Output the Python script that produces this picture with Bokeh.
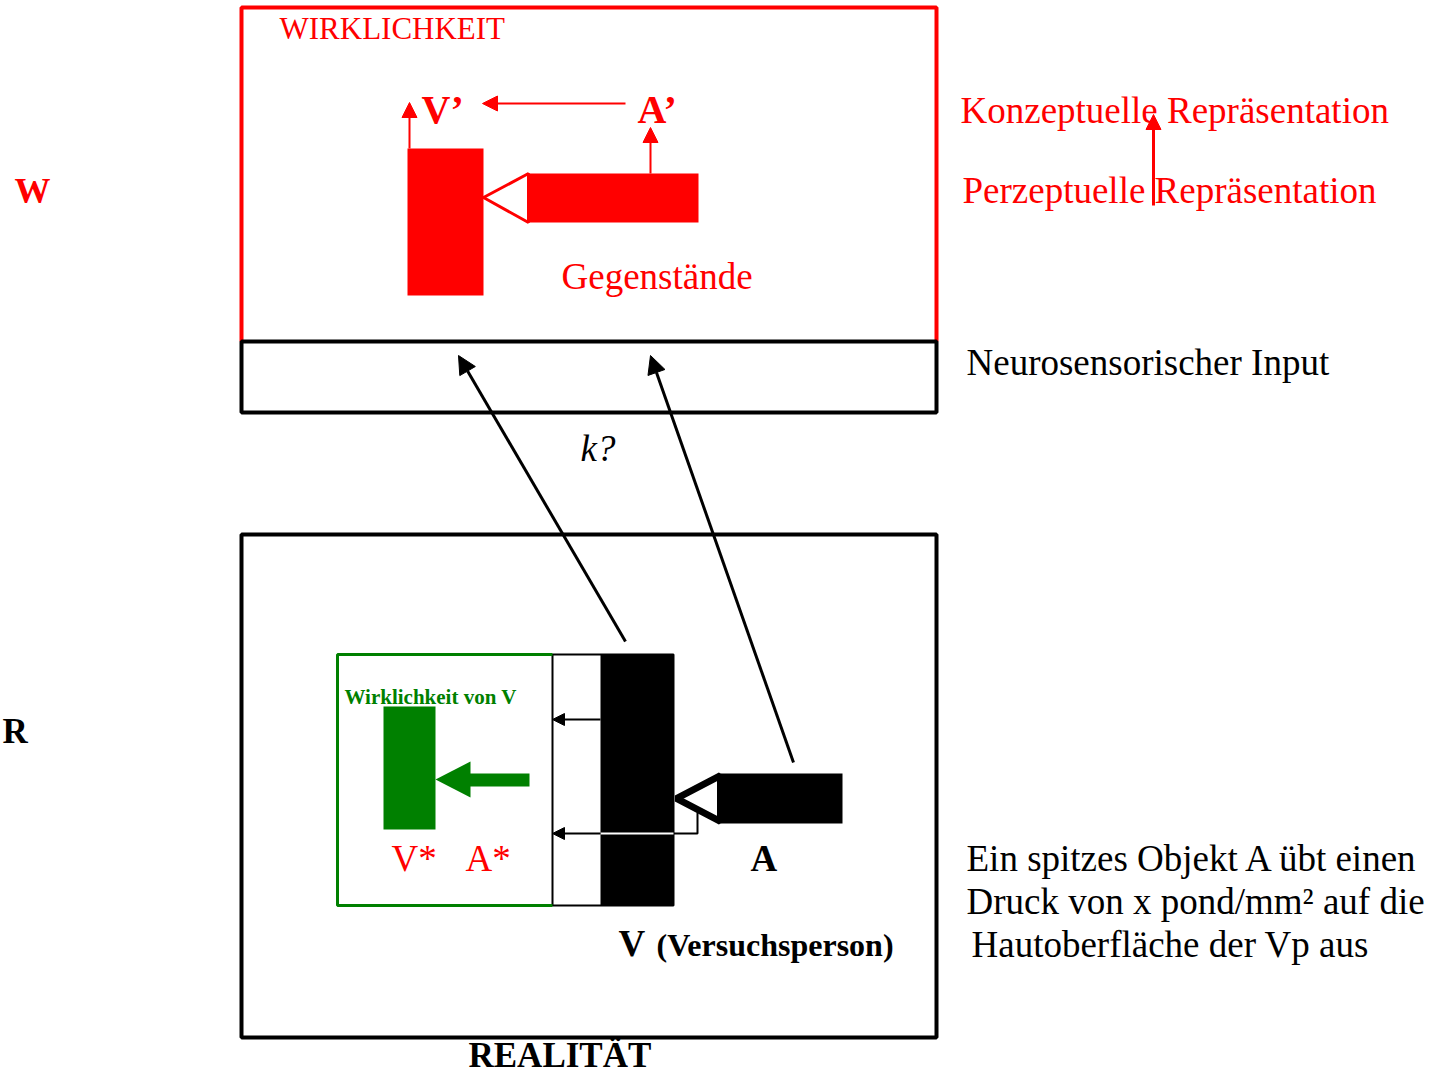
from bokeh.plotting import figure
from bokeh.models import Range1d, Arrow, NormalHead, ColumnDataSource
from bokeh.core.properties import value
from bokeh.embed import file_html
from bokeh.resources import INLINE

RED = "#ff0000"
GREEN = "#008000"
BLACK = "#000000"
FONT = "Liberation Serif"

# ---------------- data (reference pixel coordinates) ----------------
# frames
red_frame_x = [241, 241, 936, 936]
red_frame_y = [341, 7, 7, 341]
input_band = dict(left=[241], right=[936], top=[341], bottom=[412])
real_box = dict(left=[241], right=[936], top=[534], bottom=[1037])

# red "Gegenstände" objects
red_rect_left = [407, 528]
red_rect_right = [483, 698]
red_rect_top = [148, 173]
red_rect_bottom = [295, 222]
red_tri_x = [528, 483, 528]
red_tri_y = [173, 197, 222]

# red arrows (x0, y0, x1, y1, width)
red_arrows = [
    (625, 103, 482, 103, 2),
    (409, 148, 409, 102, 2),
    (650, 173, 650, 127, 2),
    (1153, 205, 1153, 114, 3),
]

# black arrows neurosensorisch
black_arrows = [
    (625, 641, 458, 355, 3),
    (793, 762, 650, 355, 3),
]

# green box (Wirklichkeit von V)
green_frame_x = [552, 337, 337, 552]
green_frame_y = [654, 654, 905, 905]
green_rect = dict(left=[383], right=[435], top=[706], bottom=[829])
green_shaft = dict(left=[468], right=[529], top=[773], bottom=[786])
green_head_x = [435, 470, 470]
green_head_y = [779, 761, 797]

# black objects (V, A)
skin_band = dict(left=[552], right=[673], top=[654], bottom=[905])
v_rect = dict(left=[600], right=[673], top=[654], bottom=[905])
a_rect = dict(left=[720], right=[842], top=[773], bottom=[823])
black_tri_x = [720, 676, 720]
black_tri_y = [775, 798, 821]
bracket_x = [697, 697, 673]
bracket_y = [812, 833, 833]
small_arrows = [
    (600, 719, 552, 719),
    (600, 833, 552, 833),
]

# texts: x, baseline y, text, size (px), color, style
texts = [
    (279, 38, "WIRKLICHKEIT", 31, RED, "normal"),
    (421, 122, "V\u2019", 40, RED, "bold"),
    (637, 122, "A\u2019", 40, RED, "bold"),
    (561, 288, "Gegenst\u00e4nde", 37, RED, "normal"),
    (960, 122, "Konzeptuelle Repr\u00e4sentation", 37, RED, "normal"),
    (962, 202, "Perzeptuelle Repr\u00e4sentation", 37, RED, "normal"),
    (14, 202, "W", 36, RED, "bold"),
    (966, 374, "Neurosensorischer Input", 37, BLACK, "normal"),
    (580, 460, "k?", 37, BLACK, "italic"),
    (2, 742, "R", 35, BLACK, "bold"),
    (344, 703, "Wirklichkeit von V", 21, GREEN, "bold"),
    (391, 870, "V*", 37, RED, "normal"),
    (465, 870, "A*", 37, RED, "normal"),
    (750, 870, "A", 37, BLACK, "bold"),
    (618, 955, "V", 37, BLACK, "bold"),
    (656, 955, "(Versuchsperson)", 32, BLACK, "bold"),
    (966, 870, "Ein spitzes Objekt A \u00fcbt einen", 37, BLACK, "normal"),
    (966, 913, "Druck von x pond/mm\u00b2 auf die", 37, BLACK, "normal"),
    (971, 956, "Hautoberfl\u00e4che der Vp aus", 37, BLACK, "normal"),
    (468, 1066, "REALIT\u00c4T", 35, BLACK, "bold"),
]

# ---------------- figure ----------------
W, H = 1429, 1075
p = figure(width=W, height=H, x_range=Range1d(0, W), y_range=Range1d(H, 0),
           output_backend="svg", toolbar_location=None, min_border=0,
           x_axis_location=None, y_axis_location=None)
p.grid.visible = False
p.outline_line_color = None
p.background_fill_color = "white"
p.border_fill_color = "white"

# top: red frame and input band
p.line(red_frame_x, red_frame_y, line_color=RED, line_width=4)
p.quad(fill_color=None, line_color=BLACK, line_width=4, **input_band)

p.quad(left=red_rect_left, right=red_rect_right, top=red_rect_top, bottom=red_rect_bottom,
       fill_color=RED, line_color=None)
p.patch(red_tri_x, red_tri_y, fill_color="white", line_color=RED, line_width=3)


def add_arrow(x0, y0, x1, y1, color, width, size):
    p.add_layout(Arrow(end=NormalHead(size=size, fill_color=color, line_color=color, line_width=1),
                       x_start=x0, y_start=y0, x_end=x1, y_end=y1,
                       line_color=color, line_width=width))


for x0, y0, x1, y1, w in red_arrows:
    add_arrow(x0, y0, x1, y1, RED, w, 15)

# bottom: reality box
p.quad(fill_color=None, line_color=BLACK, line_width=4, **real_box)

p.quad(fill_color=None, line_color=BLACK, line_width=2, **skin_band)
p.line(green_frame_x, green_frame_y, line_color=GREEN, line_width=3)
p.quad(fill_color=GREEN, line_color=None, **green_rect)
p.quad(fill_color=GREEN, line_color=None, **green_shaft)
p.patch(green_head_x, green_head_y, fill_color=GREEN, line_color=None)

p.quad(fill_color=BLACK, line_color=None, **v_rect)
p.quad(fill_color=BLACK, line_color=None, **a_rect)
p.patch(black_tri_x, black_tri_y, fill_color="white", line_color=BLACK, line_width=7)
p.line(bracket_x, bracket_y, line_color=BLACK, line_width=2)

for x0, y0, x1, y1 in small_arrows:
    add_arrow(x0, y0, x1, y1, BLACK, 2, 12)
# white part of the lower arrow over the black V body
p.segment(x0=[v_rect["left"][0]], y0=[small_arrows[1][1]], x1=[v_rect["right"][0]],
          y1=[small_arrows[1][1]], line_color="white", line_width=2)

for x0, y0, x1, y1, w in black_arrows:
    add_arrow(x0, y0, x1, y1, BLACK, w, 18)

# the renderer places the alphabetic baseline ~0.32 em lower than asked; compensate
src = ColumnDataSource(dict(
    x=[t[0] for t in texts],
    y=[t[1] - 0.32 * t[3] for t in texts],
    text=[t[2] for t in texts],
    size=["%dpx" % t[3] for t in texts],
    color=[t[4] for t in texts],
    style=[t[5] for t in texts]))
p.text(x="x", y="y", text="text", source=src, text_font=value(FONT),
       text_font_size="size", text_color="color", text_font_style="style",
       text_baseline="alphabetic", text_align="left")

open("out.html", "w").write(file_html(p, INLINE))
